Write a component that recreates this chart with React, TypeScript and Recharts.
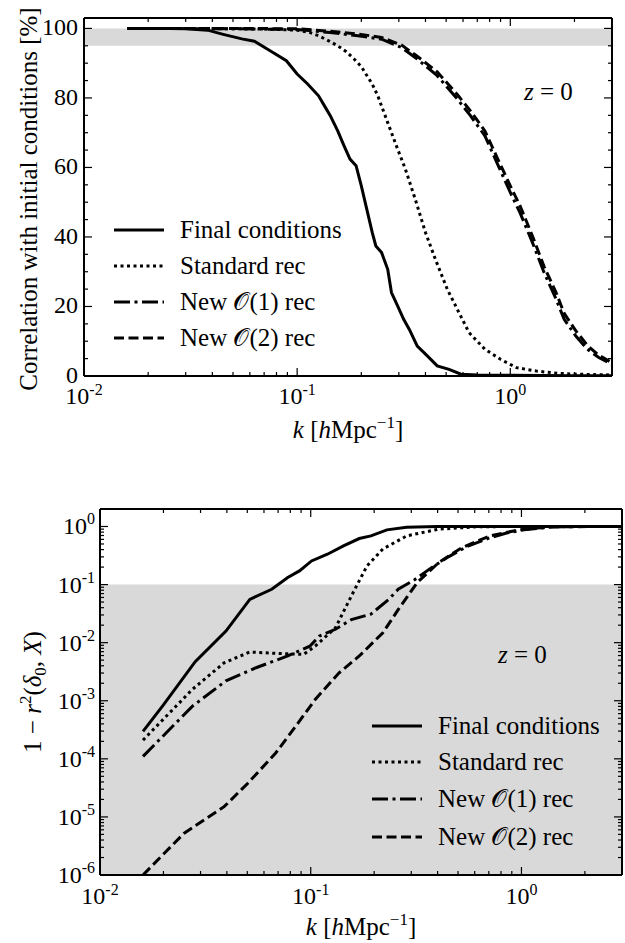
import React from 'react';
import { LineChart, Line, XAxis, YAxis, ReferenceArea, Legend } from 'recharts';

const FONT = '"Liberation Serif", "Times New Roman", serif';

// ---------- shared x axis (k) ----------
const kTicks = [0.01, 0.1, 1];
const kTickExps = ['-2', '-1', '0'];
const kMinorTicks = [0.02, 0.03, 0.04, 0.05, 0.06, 0.07, 0.08, 0.09, 0.2, 0.3, 0.4, 0.5, 0.6, 0.7, 0.8, 0.9, 2];

// ---------- series ----------
const seriesNames = ['Final conditions', 'Standard rec', 'New \u{1D4AA}(1) rec', 'New \u{1D4AA}(2) rec'];
const seriesDash = ['', '3 3.5', '16 4.5 3 4.5', '10 4.5'];

// ---------- top panel: correlation [%] ----------
const corrTicks = [0, 20, 40, 60, 80, 100];
const corrTickLabels = ['0', '20', '40', '60', '80', '100'];
const corrMinorTicks = [5, 10, 15, 25, 30, 35, 45, 50, 55, 65, 70, 75, 85, 90, 95];

const kTopFinal = [0.016, 0.02, 0.025, 0.03, 0.038, 0.045, 0.055, 0.063, 0.075, 0.089, 0.1, 0.112, 0.126, 0.135, 0.143, 0.155, 0.166, 0.177, 0.189, 0.2, 0.214, 0.225, 0.234, 0.249, 0.266, 0.277, 0.296, 0.316, 0.336, 0.366, 0.408, 0.454, 0.516, 0.587, 0.7, 1, 2, 3];
const corrFinal = [100, 100, 100, 99.9, 99.5, 98.3, 97.0, 96.3, 93.5, 90.7, 86.9, 84.0, 80.6, 77.5, 74.9, 70.5, 66.2, 62.4, 60.5, 54.7, 47.0, 41.3, 37.4, 35.5, 30.7, 24.0, 20.2, 16.3, 13.4, 8.6, 5.8, 2.9, 1.9, 0.5, 0.3, 0.2, 0.1, 0.1];

const kTopStd = [0.016, 0.03, 0.05, 0.07, 0.1, 0.115, 0.126, 0.14, 0.155, 0.17, 0.185, 0.2, 0.21, 0.225, 0.239, 0.266, 0.296, 0.322, 0.358, 0.4, 0.445, 0.506, 0.564, 0.64, 0.76, 0.9, 1.07, 1.33, 1.66, 2.07, 3];
const corrStd = [100, 100, 99.9, 99.8, 99.5, 98.8, 97.9, 96.5, 95, 93.3, 91.2, 89, 86.9, 84, 80.6, 72.9, 65.3, 59.5, 50.9, 41.3, 33.6, 25, 19.2, 12.5, 7.7, 4.8, 2.4, 1.4, 0.8, 0.5, 0.3];

const kTopNew = [0.016, 0.05, 0.1, 0.143, 0.193, 0.249, 0.309, 0.366, 0.454, 0.564, 0.65, 0.76, 0.865, 1.0, 1.11, 1.27, 1.44, 1.64, 1.79, 2.03, 2.3, 2.6, 3.0];
const corrNew1 = [100, 99.9, 99.7, 98.8, 97.9, 96.9, 94.5, 91.2, 86.4, 79.7, 74.9, 69.1, 61.4, 52.8, 47, 38.4, 29.8, 22.1, 16.3, 11.5, 7.7, 5.3, 3.4];
const corrNew2 = [100, 100, 99.9, 99.2, 98.4, 97.4, 95.2, 92, 87.5, 81, 76.3, 70.5, 63, 54.7, 49, 40.3, 31.5, 24, 18, 13, 8.8, 6, 3.8];

// ---------- bottom panel: 1 - r^2 ----------
const errTicks = [1e-6, 1e-5, 1e-4, 1e-3, 1e-2, 1e-1, 1];
const errTickExps = ['-6', '-5', '-4', '-3', '-2', '-1', '0'];
const errMinorMult = [2, 3, 4, 5, 6, 7, 8, 9];
const errMinorTicks = errTicks.slice(0, -1).flatMap((d) => errMinorMult.map((m) => m * d));

const kBotFinal = [0.016, 0.02, 0.0283, 0.0396, 0.0514, 0.0653, 0.0778, 0.0884, 0.1009, 0.12, 0.143, 0.17, 0.193, 0.23, 0.285, 0.4, 0.6, 1, 2, 3];
const errFinal = [2.96e-4, 8.5e-4, 4.7e-3, 0.0158, 0.0557, 0.083, 0.132, 0.172, 0.255, 0.333, 0.464, 0.62, 0.69, 0.875, 0.97, 0.995, 1, 1, 1, 1];

const kBotStd = [0.016, 0.0274, 0.0388, 0.0514, 0.0713, 0.0925, 0.105, 0.131, 0.156, 0.185, 0.22, 0.286, 0.405, 0.625, 1, 3];
const errStd = [2.1e-4, 1.56e-3, 4.5e-3, 6.9e-3, 6.5e-3, 6.3e-3, 8.7e-3, 0.018, 0.064, 0.21, 0.41, 0.69, 0.9, 0.99, 1, 1];

const kBotNew1 = [0.016, 0.0274, 0.0396, 0.055, 0.0778, 0.099, 0.11, 0.131, 0.156, 0.193, 0.235, 0.26, 0.31, 0.37, 0.45, 0.55, 0.7, 0.85, 1.03, 1.4, 2, 3];
const errNew1 = [1.1e-4, 8e-4, 2.2e-3, 3.7e-3, 5.9e-3, 8.7e-3, 0.013, 0.017, 0.025, 0.031, 0.056, 0.083, 0.12, 0.19, 0.3, 0.45, 0.63, 0.77, 0.88, 0.98, 1, 1];

const kBotNew2 = [0.016, 0.025, 0.0388, 0.0503, 0.0682, 0.0847, 0.105, 0.136, 0.17, 0.22, 0.26, 0.32, 0.405, 0.52, 0.71, 0.97, 1.4, 3];
const errNew2 = [1e-6, 5.2e-6, 1.5e-5, 3.8e-5, 1.26e-4, 3.6e-4, 1.05e-3, 3e-3, 5.9e-3, 0.0148, 0.037, 0.108, 0.24, 0.43, 0.69, 0.875, 0.99, 1];

const pts = (k: number[], v: number[]) => k.map((x, i) => ({ k: x, v: v[i] }));

const topSeries = [pts(kTopFinal, corrFinal), pts(kTopStd, corrStd), pts(kTopNew, corrNew1), pts(kTopNew, corrNew2)];
const botSeries = [pts(kBotFinal, errFinal), pts(kBotStd, errStd), pts(kBotNew1, errNew1), pts(kBotNew2, errNew2)];

const kAllTicks = [...kTicks, ...kMinorTicks];
const corrAllTicks = [...corrTicks, ...corrMinorTicks];
const errAllTicks = [...errTicks, ...errMinorTicks];

const idx = (arr: number[], v: number) => arr.findIndex((t) => Math.abs(t - v) <= Math.abs(t) * 1e-6 + 1e-12);

const SCRIPT_FONT = '"DejaVu Serif", "DejaVu Sans", "Noto Sans", serif';
const MAJOR = 8;
const MINOR = 4;
const TICK_W = 1.2;

// side: 'bottom' | 'top' | 'left' | 'right' ; kind: 'k' | 'corr' | 'err'
function AxisTick(props: any) {
  const { x, y, payload, side, kind, labelDy } = props;
  const v = payload.value;
  const majors = kind === 'k' ? kTicks : kind === 'corr' ? corrTicks : errTicks;
  const i = idx(majors, v);
  const len = i >= 0 ? MAJOR : MINOR;
  let line;
  if (side === 'bottom') line = <line x1={x} x2={x} y1={y} y2={y - len} stroke="#000" strokeWidth={TICK_W} />;
  else if (side === 'top') line = <line x1={x} x2={x} y1={y} y2={y + len} stroke="#000" strokeWidth={TICK_W} />;
  else if (side === 'left') line = <line x1={x} x2={x + len} y1={y} y2={y} stroke="#000" strokeWidth={TICK_W} />;
  else line = <line x1={x} x2={x - len} y1={y} y2={y} stroke="#000" strokeWidth={TICK_W} />;
  let label = null;
  if (i >= 0 && side === 'bottom') {
    label = (
      <text x={x} y={y + labelDy} textAnchor="middle" fontFamily={FONT} fontSize={24} fill="#000">
        10<tspan dy={-9} fontSize={16}>{kTickExps[i]}</tspan>
      </text>
    );
  } else if (i >= 0 && side === 'left' && kind === 'corr') {
    label = (
      <text x={x - 6} y={y + 7} textAnchor="end" fontFamily={FONT} fontSize={24} fill="#000">
        {corrTickLabels[i]}
      </text>
    );
  } else if (i >= 0 && side === 'left' && kind === 'err') {
    label = (
      <text x={x - 5} y={y + 8} textAnchor="end" fontFamily={FONT} fontSize={24} fill="#000">
        10<tspan dy={-10} fontSize={16}>{errTickExps[i]}</tspan>
      </text>
    );
  }
  return (
    <g>
      {line}
      {label}
    </g>
  );
}

function SeriesName({ name }: { name: string }) {
  const parts = name.split('\u{1D4AA}');
  if (parts.length === 1) return <>{name}</>;
  return (
    <>
      {parts[0]}
      <tspan fontFamily={SCRIPT_FONT}>{'\u{1D4AA}'}</tspan>
      {parts[1]}
    </>
  );
}

function LegendBox({ rows }: { rows: number[] }) {
  return (
    <svg width={300} height={160} style={{ overflow: 'visible' }}>
      {seriesNames.map((n, i) => (
        <g key={n}>
          <line x1={12} x2={62} y1={rows[i]} y2={rows[i]} stroke="#000" strokeWidth={3}
            strokeDasharray={seriesDash[i] || undefined} />
          <text x={78} y={rows[i] + 8} fontFamily={FONT} fontSize={25} fill="#000">
            <SeriesName name={n} />
          </text>
        </g>
      ))}
    </svg>
  );
}

const AX = { stroke: '#000', strokeWidth: 2 };

function TopChart() {
  const common = { type: 'number' as const, allowDataOverflow: true, interval: 0 as const, tickSize: 0, tickMargin: 0, tickLine: false };
  return (
    <LineChart width={625} height={470} margin={{ top: 17, right: 12, bottom: 93, left: 83 }}>
      <XAxis xAxisId="x" dataKey="k" scale="log" domain={[0.01, 3]} ticks={kAllTicks} height={1} axisLine={AX} {...common}
        tick={(p: any) => <AxisTick {...p} side="bottom" kind="k" labelDy={28} />} />
      <XAxis xAxisId="xt" orientation="top" dataKey="k" scale="log" domain={[0.01, 3]} ticks={kAllTicks} height={1} axisLine={AX} {...common}
        tick={(p: any) => <AxisTick {...p} side="top" kind="k" />} />
      <YAxis yAxisId="y" domain={[0, 103]} ticks={corrAllTicks} width={1} axisLine={AX} {...common}
        tick={(p: any) => <AxisTick {...p} side="left" kind="corr" />} />
      <YAxis yAxisId="yr" orientation="right" domain={[0, 103]} ticks={corrAllTicks} width={1} axisLine={AX} {...common}
        tick={(p: any) => <AxisTick {...p} side="right" kind="corr" />} />
      <ReferenceArea xAxisId="x" yAxisId="y" y1={95} y2={100} fill="#d9d9d9" fillOpacity={1} stroke="none" />
      {topSeries.map((d, i) => (
        <Line key={i} xAxisId="x" yAxisId="y" data={d} dataKey="v" name={seriesNames[i]} type="linear" stroke="#000"
          strokeWidth={3} strokeDasharray={seriesDash[i] || undefined} dot={false} activeDot={false} isAnimationActive={false} />
      ))}
      <Legend layout="horizontal" verticalAlign="middle" align="center"
        wrapperStyle={{ left: 102, top: 205, width: 300, height: 160 }}
        content={() => <LegendBox rows={[25, 61, 97, 133]} />} />
    </LineChart>
  );
}

function BottomChart() {
  const common = { type: 'number' as const, allowDataOverflow: true, interval: 0 as const, tickSize: 0, tickMargin: 0, tickLine: false };
  return (
    <LineChart width={625} height={473} margin={{ top: 38, right: 2, bottom: 67, left: 99 }}>
      <XAxis xAxisId="x" dataKey="k" scale="log" domain={[0.01, 3]} ticks={kAllTicks} height={1} axisLine={AX} {...common}
        tick={(p: any) => <AxisTick {...p} side="bottom" kind="k" labelDy={29} />} />
      <XAxis xAxisId="xt" orientation="top" dataKey="k" scale="log" domain={[0.01, 3]} ticks={kAllTicks} height={1} axisLine={AX} {...common}
        tick={(p: any) => <AxisTick {...p} side="top" kind="k" />} />
      <YAxis yAxisId="y" scale="log" domain={[1e-6, 2]} ticks={errAllTicks} width={1} axisLine={AX} {...common}
        tick={(p: any) => <AxisTick {...p} side="left" kind="err" />} />
      <YAxis yAxisId="yr" orientation="right" scale="log" domain={[1e-6, 2]} ticks={errAllTicks} width={1} axisLine={AX} {...common}
        tick={(p: any) => <AxisTick {...p} side="right" kind="err" />} />
      <ReferenceArea xAxisId="x" yAxisId="y" y1={1e-6} y2={0.1} fill="#d9d9d9" fillOpacity={1} stroke="none" />
      {botSeries.map((d, i) => (
        <Line key={i} xAxisId="x" yAxisId="y" data={d} dataKey="v" name={seriesNames[i]} type="linear" stroke="#000"
          strokeWidth={3} strokeDasharray={seriesDash[i] || undefined} dot={false} activeDot={false} isAnimationActive={false} />
      ))}
      <Legend layout="horizontal" verticalAlign="middle" align="center"
        wrapperStyle={{ left: 360, top: 230, width: 300, height: 160 }}
        content={() => <LegendBox rows={[26, 62, 99, 137]} />} />
    </LineChart>
  );
}

function Overlay() {
  return (
    <svg width={625} height={943} style={{ position: 'absolute', left: 0, top: 0, pointerEvents: 'none' }}
      fontFamily={FONT} fill="#000">
      {/* top panel */}
      <text transform="translate(37,199) rotate(-90)" textAnchor="middle" fontSize={25}>
        Correlation with initial conditions [%]
      </text>
      <text x={348} y={438} textAnchor="middle" fontSize={25}>
        <tspan fontStyle="italic">k</tspan> [<tspan fontStyle="italic">h</tspan>Mpc<tspan dy={-10} fontSize={17}>−1</tspan><tspan dy={10}>]</tspan>
      </text>
      <text x={524} y={100} fontSize={25}>
        <tspan fontStyle="italic">z</tspan> = 0
      </text>
      {/* bottom panel */}
      <text transform="translate(41,692) rotate(-90)" textAnchor="middle" fontSize={25}>
        1 − <tspan fontStyle="italic">r</tspan><tspan dy={-10} fontSize={17}>2</tspan><tspan dy={10}>(</tspan><tspan fontStyle="italic">δ</tspan><tspan dy={5} fontSize={17}>0</tspan><tspan dy={-5}>, </tspan><tspan fontStyle="italic">X</tspan>)
      </text>
      <text x={361} y={935} textAnchor="middle" fontSize={25}>
        <tspan fontStyle="italic">k</tspan> [<tspan fontStyle="italic">h</tspan>Mpc<tspan dy={-10} fontSize={17}>−1</tspan><tspan dy={10}>]</tspan>
      </text>
      <text x={498} y={663} fontSize={25}>
        <tspan fontStyle="italic">z</tspan> = 0
      </text>
    </svg>
  );
}

export default function App() {
  return (
    <div style={{ position: 'absolute', left: 0, top: 0, width: 625, height: 943, background: '#fff' }}>
      <div style={{ position: 'absolute', left: 0, top: 0 }}>
        <TopChart />
      </div>
      <div style={{ position: 'absolute', left: 0, top: 470 }}>
        <BottomChart />
      </div>
      <Overlay />
    </div>
  );
}
